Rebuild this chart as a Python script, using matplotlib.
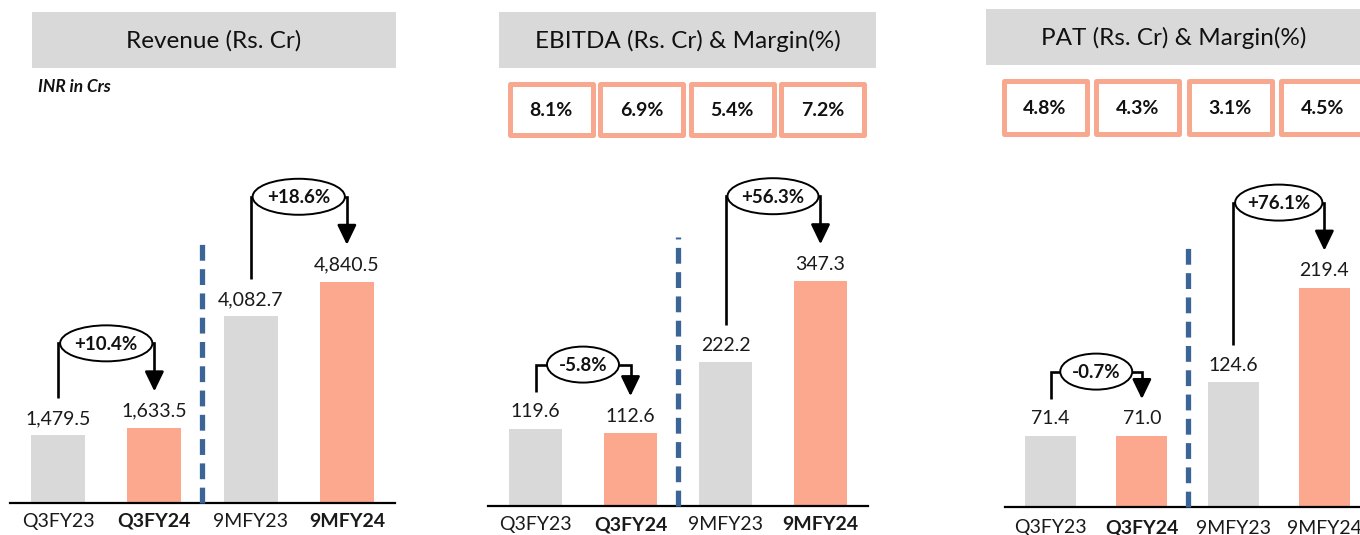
import matplotlib
matplotlib.use('Agg')
import matplotlib.pyplot as plt
from matplotlib.patches import Rectangle, Ellipse

plt.rcParams['font.family'] = ['Lato', 'DejaVu Sans']

# ---------------- data ----------------
categories = ['Q3FY23', 'Q3FY24', '9MFY23', '9MFY24']
revenue = [1479.5, 1633.5, 4082.7, 4840.5]
ebitda = [119.6, 112.6, 222.2, 347.3]
pat = [71.4, 71.0, 124.6, 219.4]
ebitda_margin = ['8.1%', '6.9%', '5.4%', '7.2%']
pat_margin = ['4.8%', '4.3%', '3.1%', '4.5%']
revenue_growth = ['+10.4%', '+18.6%']
ebitda_growth = ['-5.8%', '+56.3%']
pat_growth = ['-0.7%', '+76.1%']
titles = ['Revenue (Rs. Cr)', 'EBITDA (Rs. Cr) & Margin(%)', 'PAT (Rs. Cr) & Margin(%)']
bold_ticks = [[False, True, False, True],
              [False, True, False, True],
              [False, True, False, False]]

GREY = '#D9D9D9'
SALMON = '#FCA88E'
BOXEDGE = '#F9A890'
DASH = '#3B6596'

W, H = 1360, 535
fig = plt.figure(figsize=(W / 100, H / 100), dpi=100)

ov = fig.add_axes([0, 0, 1, 1])
ov.set_xlim(0, W)
ov.set_ylim(H, 0)
ov.axis('off')
ov.patch.set_alpha(0)
ov.set_zorder(5)

# layout per panel (pixels)
panels = [
    dict(vals=revenue, fmt='{:,.1f}', growth=revenue_growth, margins=None,
         left=10, right=395, base=503, ymax=7724, pad=7,
         title_box=(32, 12, 396, 68), margin_start=None, margin_step=None, margin_y=None,
         dash_top=241),
    dict(vals=ebitda, fmt='{:,.1f}', growth=ebitda_growth, margins=ebitda_margin,
         left=488, right=868, base=506, ymax=550, pad=7.5,
         title_box=(499, 12, 876, 68), margin_start=507, margin_step=90.5, margin_y=(81, 137),
         dash_top=237),
    dict(vals=pat, fmt='{:,.1f}', growth=pat_growth, margins=pat_margin,
         left=1005, right=1370, base=507, ymax=357, pad=9,
         title_box=(986, 9, 1362, 65), margin_start=1001, margin_step=92.5, margin_y=(78, 136),
         dash_top=241),
]
TOP = 150


def to_ov(ax, x, y):
    d = ax.transData.transform((x, y))
    return ov.transData.inverted().transform(d)


for p_i, p in enumerate(panels):
    ax = fig.add_axes([p['left'] / W, (H - p['base']) / H,
                       (p['right'] - p['left']) / W, (p['base'] - TOP) / H])
    ax.set_xlim(-0.5, 3.5)
    ax.set_ylim(0, p['ymax'])
    colors = [GREY, SALMON, GREY, SALMON]
    x = list(range(len(categories)))
    ax.bar(x, p['vals'], width=0.56, color=colors, zorder=2)
    for s in ['top', 'right', 'left']:
        ax.spines[s].set_visible(False)
    ax.spines['bottom'].set_linewidth(1.6)
    ax.spines['bottom'].set_color('black')
    ax.set_yticks([])
    ax.set_xticks(x)
    ax.set_xticklabels(categories, fontsize=14)
    for lbl, b in zip(ax.get_xticklabels(), bold_ticks[p_i]):
        lbl.set_fontweight('bold' if b else 'normal')
        lbl.set_color('#1a1a1a')
    ax.tick_params(axis='x', length=0, pad=p['pad'])
    ax.patch.set_alpha(0)

    # value labels
    for xi, v in zip(x, p['vals']):
        ax.annotate(p['fmt'].format(v), (xi, v), xytext=(0, 17), textcoords='offset pixels',
                    ha='center', va='center', fontsize=14, color='#1a1a1a')

    # dashed separator
    xd, yb = to_ov(ax, 1.5, 0)
    ov.plot([xd, xd], [yb, p['dash_top']], color=DASH, lw=3.8, ls=(0, (3.0, 1.6)),
            solid_capstyle='butt', zorder=1)

    # title box
    x0, y0, x1, y1 = p['title_box']
    ov.add_patch(Rectangle((x0, y0), x1 - x0, y1 - y0, facecolor=GREY, edgecolor='none'))
    ov.text((x0 + x1) / 2, (y0 + y1) / 2 + 1, titles[p_i], ha='center', va='center',
            fontsize=17.5, color='#111111')

    # margin boxes
    if p['margins'] is not None:
        my0, my1 = p['margin_y']
        for k, m in enumerate(p['margins']):
            bx = p['margin_start'] + k * p['margin_step']
            ov.add_patch(Rectangle((bx + 2.5, my0 + 2.5), 83, my1 - my0 - 5,
                                   facecolor='white', edgecolor=BOXEDGE, lw=3.6,
                                   joinstyle='round'))
            ov.text(bx + 44, (my0 + my1) / 2 + 1, m, ha='center', va='center',
                    fontsize=14, fontweight='bold', color='#111111')

    # growth brackets
    for (i, j), g in zip([(0, 1), (2, 3)], p['growth']):
        xl, yl = to_ov(ax, i, p['vals'][i])
        xr, yr = to_ov(ax, j, p['vals'][j])
        inc = g.startswith('+')
        ybr = min(yl, yr) - (85 if inc else 64)
        tip = yr - 37
        ov.plot([xl, xl, xr, xr], [yl - 37, ybr, ybr, tip - 10], color='black', lw=1.9,
                solid_joinstyle='miter', solid_capstyle='butt', zorder=6)
        ov.annotate('', xy=(xr, tip), xytext=(xr, tip - 18),
                    arrowprops=dict(arrowstyle='-|>,head_length=1.2,head_width=0.58',
                                    lw=1.9, color='black', shrinkA=0, shrinkB=0),
                    zorder=6)
        ew = (xr - xl - 4) if inc else 72
        ov.add_patch(Ellipse(((xl + xr) / 2, ybr), ew, 36, facecolor='white',
                             edgecolor='black', lw=1.4, zorder=7))
        ov.text((xl + xr) / 2, ybr + 1, g, ha='center', va='center', fontsize=13.5,
                fontweight='bold', color='#111111', zorder=8)

ov.text(38, 87, 'INR in Crs', ha='left', va='center', fontsize=12.5,
        fontweight='bold', fontstyle='italic', color='#111111')

fig.savefig('out.png', dpi=100)
